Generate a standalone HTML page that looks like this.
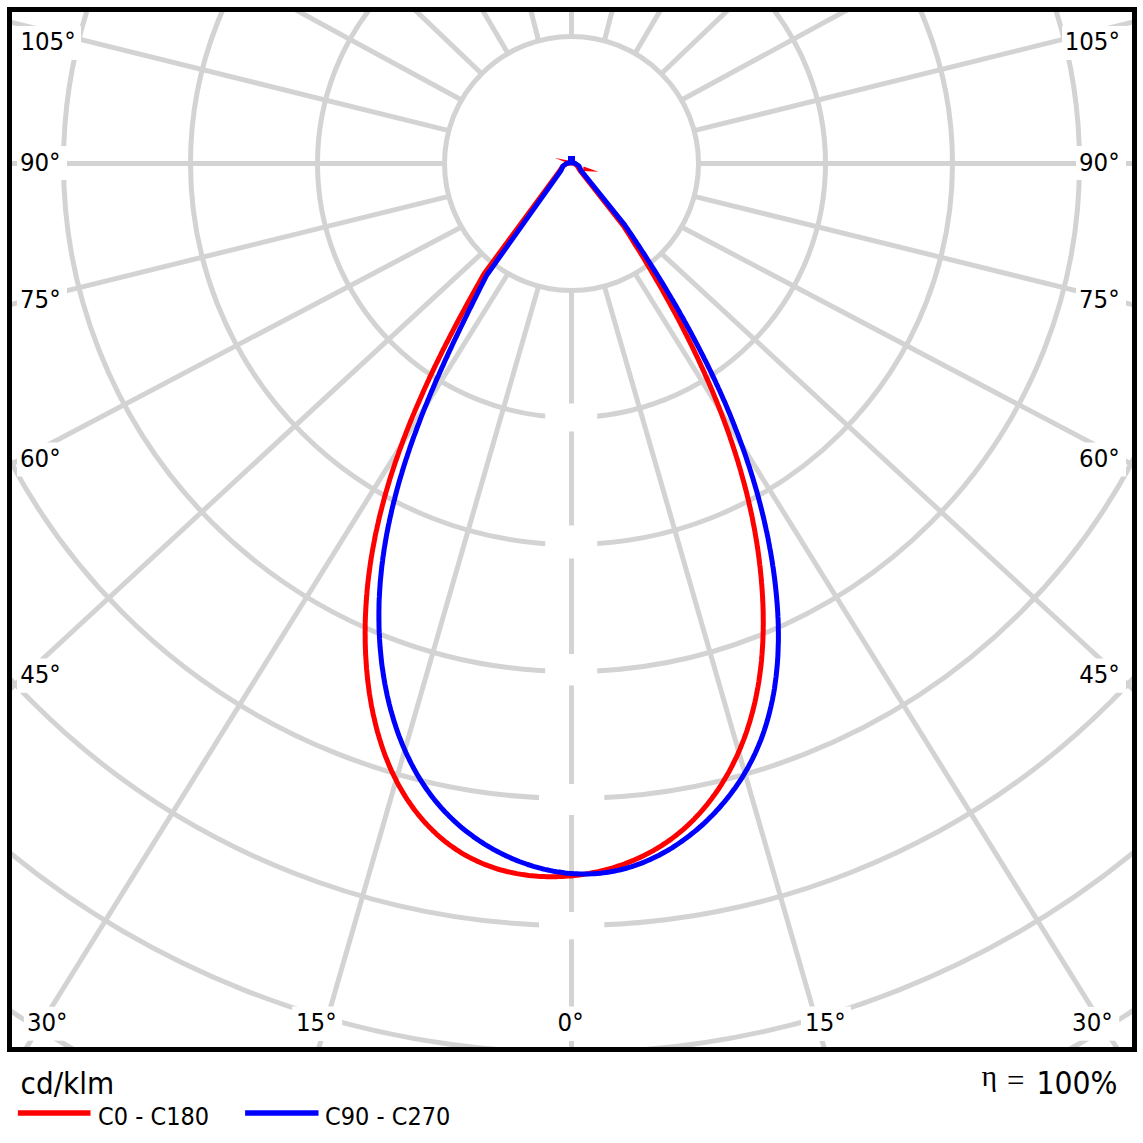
<!DOCTYPE html><html><head><meta charset="utf-8"><title>Polar LDC</title><style>html,body{margin:0;padding:0;background:#fff;width:1143px;height:1143px;overflow:hidden}svg{display:block}</style></head><body>
<svg width="1143" height="1143" viewBox="0 0 1143 1143">
<defs><clipPath id="fr"><rect x="12" y="12" width="1120" height="1035"/></clipPath></defs>
<rect width="1143" height="1143" fill="#fff"/>
<g clip-path="url(#fr)">
<g fill="none" stroke="#d3d3d3" stroke-width="5"><circle cx="571.5" cy="163.5" r="127.0"/><circle cx="571.5" cy="163.5" r="254.0"/><circle cx="571.5" cy="163.5" r="381.0"/><circle cx="571.5" cy="163.5" r="508.0"/><circle cx="571.5" cy="163.5" r="635.0"/><circle cx="571.5" cy="163.5" r="762.0"/><circle cx="571.5" cy="163.5" r="889.0"/><circle cx="571.5" cy="163.5" r="1016.0"/><line x1="538.63" y1="286.17" x2="187.38" y2="1503.50"/><line x1="604.37" y1="286.17" x2="955.62" y2="1503.50"/><line x1="508.00" y1="273.49" x2="-261.92" y2="1511.11"/><line x1="635.00" y1="273.49" x2="1404.92" y2="1511.11"/><line x1="481.70" y1="253.30" x2="-115.10" y2="804.82"/><line x1="661.30" y1="253.30" x2="1258.10" y2="804.82"/><line x1="461.51" y1="227.00" x2="-183.79" y2="567.00"/><line x1="681.49" y1="227.00" x2="1326.79" y2="567.00"/><line x1="448.83" y1="196.37" x2="-246.10" y2="367.94"/><line x1="694.17" y1="196.37" x2="1389.10" y2="367.94"/><line x1="448.83" y1="130.63" x2="-137.62" y2="-14.54"/><line x1="694.17" y1="130.63" x2="1280.62" y2="-14.54"/><line x1="461.51" y1="100.00" x2="202.45" y2="-40.80"/><line x1="681.49" y1="100.00" x2="940.55" y2="-40.80"/><line x1="481.70" y1="73.70" x2="378.34" y2="-25.02"/><line x1="661.30" y1="73.70" x2="764.66" y2="-25.02"/><line x1="508.00" y1="53.51" x2="468.96" y2="-12.91"/><line x1="635.00" y1="53.51" x2="674.04" y2="-12.91"/><line x1="538.63" y1="40.83" x2="526.74" y2="-5.30"/><line x1="604.37" y1="40.83" x2="616.26" y2="-5.30"/><line x1="571.50" y1="290.50" x2="571.50" y2="1200.00"/><line x1="571.50" y1="36.50" x2="571.50" y2="-100.00"/><line x1="444.50" y1="163.50" x2="-100.00" y2="163.50"/><line x1="698.50" y1="163.50" x2="1300.00" y2="163.50"/></g>
<g fill="#fff"><rect x="545.2" y="403.5" width="52.0" height="28.0"/><rect x="545.2" y="525.5" width="52.0" height="33.0"/><rect x="545.2" y="654" width="52.0" height="31.5"/><rect x="539" y="784" width="65.3" height="31.0"/><rect x="539" y="912" width="65.3" height="27.3"/></g>
<polyline points="571.0,162.8 567.0,163.5 563.0,166.0 560.0,170.5 484.3,273.5 482.8,276.1 481.3,278.7 479.9,281.3 478.4,283.9 476.9,286.5 475.5,289.1 474.0,291.7 472.5,294.3 471.1,297.0 469.6,299.6 468.2,302.2 466.8,304.8 465.3,307.5 463.9,310.1 462.5,312.7 461.0,315.4 459.6,318.0 458.2,320.7 456.8,323.3 455.4,326.0 454.0,328.6 452.6,331.3 451.2,334.0 449.8,336.6 448.5,339.3 447.1,342.0 445.7,344.7 444.4,347.3 443.0,350.0 441.7,352.7 440.4,355.4 439.0,358.1 437.7,360.8 436.4,363.5 435.1,366.2 433.8,368.9 432.5,371.6 431.2,374.3 429.9,377.0 428.7,379.8 427.4,382.5 426.2,385.2 424.9,388.0 423.7,390.7 422.5,393.4 421.3,396.2 420.1,398.9 418.9,401.7 417.7,404.4 416.5,407.2 415.3,409.9 414.2,412.7 413.0,415.4 411.9,418.2 410.7,421.0 409.6,423.8 408.5,426.5 407.4,429.3 406.3,432.1 405.3,434.9 404.2,437.7 403.1,440.5 402.1,443.3 401.1,446.1 400.1,448.9 399.0,451.7 398.1,454.5 397.1,457.3 396.1,460.1 395.1,463.0 394.2,465.8 393.3,468.6 392.3,471.5 391.4,474.3 390.5,477.1 389.6,480.0 388.8,482.8 387.9,485.7 387.1,488.5 386.2,491.4 385.4,494.2 384.6,497.1 383.8,500.0 383.1,502.8 382.3,505.7 381.6,508.6 380.8,511.5 380.1,514.3 379.4,517.2 378.7,520.1 378.1,523.0 377.4,525.9 376.8,528.8 376.1,531.7 375.5,534.6 374.9,537.5 374.4,540.5 373.8,543.4 373.3,546.3 372.7,549.2 372.2,552.2 371.7,555.1 371.2,558.0 370.8,561.0 370.3,563.9 369.9,566.8 369.5,569.8 369.1,572.8 368.7,575.7 368.4,578.7 368.0,581.6 367.7,584.6 367.4,587.6 367.1,590.5 366.9,593.5 366.6,596.5 366.4,599.5 366.2,602.5 366.0,605.5 365.8,608.5 365.7,611.5 365.5,614.5 365.4,617.5 365.3,620.5 365.2,623.5 365.2,626.5 365.2,629.5 365.1,632.6 365.2,635.6 365.2,638.6 365.2,641.6 365.3,644.7 365.4,647.7 365.5,650.8 365.6,653.8 365.8,656.9 366.0,659.9 366.2,662.9 366.4,666.0 366.6,669.0 366.9,672.1 367.2,675.1 367.5,678.2 367.8,681.2 368.2,684.2 368.6,687.3 369.0,690.3 369.4,693.3 369.9,696.3 370.4,699.4 370.9,702.4 371.4,705.4 372.0,708.3 372.6,711.3 373.2,714.3 373.9,717.3 374.6,720.2 375.3,723.2 376.0,726.1 376.7,729.0 377.5,731.9 378.4,734.8 379.2,737.7 380.1,740.6 381.0,743.5 381.9,746.3 382.9,749.2 383.9,752.0 384.9,754.8 386.0,757.6 387.1,760.3 388.2,763.1 389.3,765.8 390.5,768.6 391.7,771.3 393.0,773.9 394.3,776.6 395.6,779.2 396.9,781.9 398.3,784.5 399.7,787.0 401.2,789.6 402.7,792.1 404.2,794.6 405.7,797.1 407.3,799.6 409.0,802.0 410.6,804.4 412.3,806.8 414.0,809.2 415.8,811.5 417.6,813.8 419.5,816.1 421.4,818.3 423.3,820.6 425.2,822.7 427.2,824.9 429.2,827.0 431.3,829.1 433.4,831.2 435.6,833.2 437.7,835.2 439.9,837.1 442.2,839.0 444.4,840.9 446.8,842.7 449.1,844.5 451.5,846.2 453.9,847.9 456.3,849.6 458.8,851.2 461.3,852.8 463.9,854.3 466.4,855.7 469.0,857.1 471.6,858.5 474.3,859.8 477.0,861.1 479.7,862.3 482.4,863.5 485.2,864.6 488.0,865.7 490.8,866.7 493.6,867.7 496.4,868.6 499.3,869.5 502.2,870.3 505.1,871.0 508.0,871.8 510.9,872.4 513.8,873.0 516.8,873.6 519.8,874.1 522.8,874.6 525.7,875.0 528.7,875.4 531.8,875.7 534.8,876.0 537.8,876.3 540.8,876.5 543.9,876.6 546.9,876.7 549.9,876.7 553.0,876.8 556.0,876.7 559.1,876.6 562.1,876.5 565.1,876.3 568.2,876.1 571.2,875.9 574.2,875.5 577.3,875.2 580.3,874.8 583.3,874.4 586.3,873.9 589.3,873.4 592.3,872.8 595.2,872.2 598.2,871.6 601.1,870.9 604.1,870.2 607.0,869.4 609.9,868.6 612.8,867.8 615.7,866.9 618.5,866.0 621.4,865.0 624.2,864.0 627.0,862.9 629.8,861.8 632.6,860.7 635.3,859.5 638.1,858.3 640.8,857.1 643.5,855.8 646.1,854.4 648.8,853.0 651.4,851.6 654.0,850.2 656.6,848.7 659.1,847.1 661.6,845.6 664.1,843.9 666.6,842.3 669.0,840.6 671.5,838.9 673.8,837.1 676.2,835.3 678.5,833.4 680.8,831.5 683.1,829.6 685.3,827.6 687.5,825.6 689.6,823.6 691.8,821.5 693.9,819.4 695.9,817.3 698.0,815.1 700.0,812.9 702.0,810.6 703.9,808.4 705.8,806.1 707.7,803.8 709.5,801.4 711.4,799.0 713.1,796.6 714.9,794.2 716.6,791.8 718.3,789.3 719.9,786.8 721.6,784.3 723.1,781.7 724.7,779.2 726.2,776.6 727.7,774.0 729.2,771.4 730.6,768.7 732.0,766.1 733.3,763.4 734.6,760.7 735.9,758.1 737.2,755.4 738.4,752.6 739.6,749.9 740.7,747.2 741.8,744.4 742.9,741.6 744.0,738.9 745.0,736.1 746.0,733.3 747.0,730.5 747.9,727.6 748.8,724.8 749.7,722.0 750.5,719.1 751.3,716.3 752.1,713.4 752.9,710.5 753.6,707.6 754.3,704.7 755.0,701.8 755.6,698.9 756.2,696.0 756.8,693.1 757.3,690.1 757.9,687.2 758.4,684.2 758.9,681.3 759.3,678.3 759.7,675.4 760.1,672.4 760.5,669.4 760.9,666.4 761.2,663.5 761.5,660.5 761.7,657.5 762.0,654.5 762.2,651.5 762.4,648.5 762.6,645.5 762.8,642.5 762.9,639.5 763.0,636.5 763.1,633.4 763.2,630.4 763.2,627.4 763.3,624.4 763.3,621.4 763.2,618.4 763.2,615.3 763.2,612.3 763.1,609.3 763.0,606.3 762.9,603.3 762.7,600.3 762.6,597.2 762.4,594.2 762.2,591.2 762.0,588.2 761.8,585.2 761.5,582.2 761.3,579.2 761.0,576.2 760.7,573.2 760.4,570.2 760.1,567.3 759.7,564.3 759.4,561.3 759.0,558.3 758.6,555.3 758.2,552.4 757.8,549.4 757.3,546.5 756.9,543.5 756.4,540.5 755.9,537.6 755.4,534.6 754.9,531.7 754.4,528.8 753.8,525.8 753.2,522.9 752.7,520.0 752.1,517.0 751.5,514.1 750.8,511.2 750.2,508.3 749.5,505.4 748.9,502.4 748.2,499.5 747.5,496.6 746.8,493.7 746.1,490.8 745.3,488.0 744.6,485.1 743.8,482.2 743.0,479.3 742.2,476.4 741.4,473.6 740.6,470.7 739.8,467.8 738.9,465.0 738.1,462.1 737.2,459.2 736.3,456.4 735.4,453.5 734.5,450.7 733.6,447.9 732.6,445.0 731.7,442.2 730.7,439.4 729.8,436.5 728.8,433.7 727.8,430.9 726.8,428.1 725.8,425.3 724.7,422.5 723.7,419.7 722.6,416.9 721.6,414.1 720.5,411.3 719.4,408.5 718.3,405.7 717.2,402.9 716.1,400.2 714.9,397.4 713.8,394.6 712.7,391.9 711.5,389.1 710.3,386.3 709.1,383.6 707.9,380.8 706.7,378.1 705.5,375.4 704.3,372.6 703.1,369.9 701.8,367.2 700.6,364.4 699.3,361.7 698.1,359.0 696.8,356.3 695.5,353.6 694.2,350.9 692.9,348.2 691.6,345.5 690.3,342.8 688.9,340.1 687.6,337.4 686.2,334.7 684.9,332.1 683.5,329.4 682.2,326.7 680.8,324.1 679.4,321.4 678.0,318.7 676.6,316.1 675.2,313.4 673.8,310.8 672.3,308.2 670.9,305.5 669.5,302.9 668.0,300.3 666.6,297.7 665.1,295.0 663.6,292.4 662.2,289.8 660.7,287.2 659.2,284.6 657.7,282.0 656.2,279.4 654.7,276.8 653.2,274.2 651.7,271.7 650.2,269.1 648.6,266.5 647.1,264.0 645.6,261.4 644.0,258.8 642.5,256.3 640.9,253.7 639.4,251.2 637.8,248.7 636.2,246.1 634.6,243.6 633.1,241.1 631.5,238.5 629.9,236.0 628.3,233.5 626.7,231.0 625.1,228.5 623.5,226.0 580.0,170.5 577.0,165.5 574.0,163.3 571.0,162.8" fill="none" stroke="#f00" stroke-width="5" stroke-linejoin="round" stroke-linecap="round"/>
<polygon points="554.5,157.8 568,160.5 567.5,163 " fill="#f00"/>
<polygon points="583.5,166.5 598.5,171.8 583,171" fill="#f00"/>
<polyline points="581.0,170.5 579.0,166.0 575.0,163.3 571.0,162.6 567.0,163.3 563.0,166.0 561.0,170.5 486.5,275.5 485.2,278.1 483.8,280.8 482.5,283.4 481.2,286.0 479.8,288.7 478.5,291.3 477.2,294.0 475.9,296.6 474.5,299.3 473.2,301.9 471.9,304.6 470.6,307.3 469.2,309.9 467.9,312.6 466.6,315.3 465.3,318.0 464.0,320.7 462.7,323.3 461.4,326.0 460.1,328.7 458.8,331.4 457.5,334.1 456.2,336.8 454.9,339.5 453.6,342.3 452.3,345.0 451.1,347.7 449.8,350.4 448.5,353.1 447.3,355.9 446.0,358.6 444.8,361.3 443.6,364.1 442.3,366.8 441.1,369.6 439.9,372.3 438.7,375.1 437.4,377.8 436.2,380.6 435.0,383.3 433.9,386.1 432.7,388.9 431.5,391.6 430.3,394.4 429.2,397.2 428.0,400.0 426.9,402.8 425.8,405.5 424.6,408.3 423.5,411.1 422.4,413.9 421.3,416.7 420.2,419.5 419.2,422.3 418.1,425.1 417.0,428.0 416.0,430.8 415.0,433.6 413.9,436.4 412.9,439.2 411.9,442.1 410.9,444.9 409.9,447.7 409.0,450.6 408.0,453.4 407.1,456.3 406.1,459.1 405.2,461.9 404.3,464.8 403.4,467.7 402.5,470.5 401.7,473.4 400.8,476.2 400.0,479.1 399.1,482.0 398.3,484.9 397.5,487.7 396.7,490.6 396.0,493.5 395.2,496.4 394.5,499.3 393.7,502.2 393.0,505.1 392.3,508.0 391.6,510.9 391.0,513.8 390.3,516.7 389.7,519.6 389.1,522.5 388.4,525.4 387.9,528.3 387.3,531.2 386.7,534.2 386.2,537.1 385.7,540.0 385.2,543.0 384.7,545.9 384.2,548.8 383.8,551.8 383.4,554.7 382.9,557.7 382.6,560.6 382.2,563.6 381.8,566.5 381.5,569.5 381.2,572.4 380.9,575.4 380.6,578.4 380.3,581.3 380.1,584.3 379.9,587.3 379.7,590.3 379.5,593.2 379.4,596.2 379.2,599.2 379.1,602.2 379.0,605.2 379.0,608.2 378.9,611.2 378.9,614.2 378.9,617.2 378.9,620.2 379.0,623.2 379.0,626.2 379.1,629.2 379.2,632.2 379.4,635.2 379.5,638.2 379.7,641.3 379.9,644.3 380.1,647.3 380.4,650.3 380.7,653.4 381.0,656.4 381.3,659.4 381.6,662.4 382.0,665.5 382.4,668.5 382.9,671.5 383.3,674.5 383.8,677.5 384.3,680.5 384.8,683.5 385.4,686.5 386.0,689.5 386.6,692.5 387.2,695.5 387.9,698.4 388.6,701.4 389.3,704.3 390.1,707.3 390.8,710.2 391.7,713.1 392.5,716.1 393.4,719.0 394.2,721.9 395.2,724.7 396.1,727.6 397.1,730.5 398.1,733.3 399.1,736.1 400.2,738.9 401.3,741.7 402.4,744.5 403.6,747.3 404.8,750.0 406.0,752.8 407.3,755.5 408.6,758.2 409.9,760.9 411.2,763.5 412.6,766.2 414.0,768.8 415.5,771.4 416.9,774.0 418.4,776.5 420.0,779.1 421.6,781.6 423.2,784.1 424.8,786.5 426.5,789.0 428.2,791.4 429.9,793.8 431.7,796.2 433.5,798.5 435.4,800.8 437.3,803.1 439.2,805.4 441.1,807.6 443.1,809.8 445.1,812.0 447.2,814.1 449.3,816.2 451.4,818.3 453.6,820.4 455.8,822.4 458.0,824.4 460.2,826.3 462.5,828.3 464.9,830.2 467.2,832.0 469.6,833.8 472.0,835.6 474.4,837.4 476.9,839.1 479.4,840.8 481.9,842.4 484.4,844.1 487.0,845.6 489.6,847.2 492.2,848.7 494.8,850.1 497.4,851.5 500.1,852.9 502.8,854.3 505.5,855.6 508.2,856.8 511.0,858.1 513.7,859.2 516.5,860.4 519.3,861.5 522.1,862.5 524.9,863.5 527.7,864.5 530.5,865.4 533.4,866.3 536.3,867.1 539.1,867.9 542.0,868.7 544.9,869.4 547.8,870.0 550.7,870.6 553.6,871.2 556.5,871.7 559.4,872.1 562.4,872.5 565.3,872.9 568.2,873.2 571.1,873.4 574.1,873.7 577.0,873.8 579.9,873.9 582.9,874.0 585.8,874.0 588.7,873.9 591.6,873.8 594.6,873.7 597.5,873.4 600.4,873.2 603.3,872.8 606.2,872.5 609.1,872.0 611.9,871.5 614.8,871.0 617.7,870.4 620.5,869.7 623.4,869.0 626.2,868.3 629.0,867.4 631.8,866.6 634.6,865.7 637.4,864.7 640.2,863.7 642.9,862.6 645.6,861.5 648.4,860.3 651.1,859.1 653.8,857.8 656.4,856.5 659.1,855.2 661.7,853.8 664.4,852.3 667.0,850.9 669.5,849.3 672.1,847.8 674.6,846.2 677.2,844.5 679.7,842.8 682.1,841.1 684.6,839.3 687.0,837.5 689.4,835.7 691.8,833.8 694.2,831.9 696.5,830.0 698.8,828.0 701.1,826.0 703.4,824.0 705.6,821.9 707.8,819.8 710.0,817.6 712.1,815.5 714.3,813.3 716.3,811.0 718.4,808.8 720.4,806.5 722.4,804.2 724.4,801.9 726.3,799.5 728.2,797.1 730.1,794.7 731.9,792.3 733.7,789.8 735.5,787.4 737.2,784.9 738.9,782.4 740.6,779.8 742.2,777.3 743.8,774.7 745.3,772.1 746.8,769.5 748.3,766.9 749.7,764.2 751.1,761.6 752.5,758.9 753.8,756.2 755.1,753.5 756.3,750.8 757.5,748.1 758.6,745.4 759.8,742.6 760.9,739.9 761.9,737.1 762.9,734.3 763.9,731.5 764.8,728.7 765.7,725.9 766.6,723.0 767.4,720.2 768.2,717.3 769.0,714.5 769.7,711.6 770.4,708.7 771.1,705.8 771.7,702.9 772.4,700.0 772.9,697.1 773.5,694.2 774.0,691.3 774.5,688.3 774.9,685.4 775.3,682.4 775.7,679.5 776.1,676.5 776.4,673.5 776.7,670.6 777.0,667.6 777.3,664.6 777.5,661.6 777.7,658.6 777.9,655.6 778.0,652.6 778.1,649.6 778.2,646.6 778.3,643.6 778.4,640.6 778.4,637.6 778.4,634.5 778.4,631.5 778.3,628.5 778.3,625.5 778.2,622.5 778.1,619.4 777.9,616.4 777.8,613.4 777.6,610.4 777.4,607.3 777.2,604.3 776.9,601.3 776.7,598.3 776.4,595.3 776.1,592.3 775.8,589.2 775.5,586.2 775.1,583.2 774.8,580.2 774.4,577.2 774.0,574.2 773.6,571.2 773.2,568.2 772.7,565.3 772.3,562.3 771.8,559.3 771.3,556.3 770.8,553.4 770.3,550.4 769.7,547.4 769.2,544.5 768.6,541.5 768.1,538.6 767.5,535.7 766.9,532.7 766.2,529.8 765.6,526.9 764.9,523.9 764.3,521.0 763.6,518.1 762.9,515.2 762.2,512.3 761.5,509.4 760.7,506.5 760.0,503.6 759.2,500.7 758.5,497.8 757.7,494.9 756.9,492.0 756.1,489.2 755.2,486.3 754.4,483.4 753.5,480.6 752.7,477.7 751.8,474.9 750.9,472.0 750.0,469.2 749.1,466.3 748.1,463.5 747.2,460.7 746.2,457.8 745.3,455.0 744.3,452.2 743.3,449.4 742.3,446.6 741.3,443.8 740.2,441.0 739.2,438.2 738.2,435.4 737.1,432.6 736.0,429.8 734.9,427.0 733.8,424.2 732.7,421.4 731.6,418.7 730.5,415.9 729.4,413.2 728.2,410.4 727.0,407.6 725.9,404.9 724.7,402.1 723.5,399.4 722.3,396.7 721.1,393.9 719.9,391.2 718.6,388.5 717.4,385.8 716.1,383.1 714.9,380.3 713.6,377.6 712.3,374.9 711.0,372.2 709.7,369.5 708.4,366.8 707.1,364.2 705.8,361.5 704.4,358.8 703.1,356.1 701.7,353.5 700.4,350.8 699.0,348.1 697.6,345.5 696.2,342.8 694.8,340.2 693.4,337.5 692.0,334.9 690.6,332.2 689.2,329.6 687.7,327.0 686.3,324.3 684.8,321.7 683.4,319.1 681.9,316.5 680.4,313.9 679.0,311.3 677.5,308.7 676.0,306.1 674.5,303.5 673.0,300.9 671.4,298.3 669.9,295.7 668.4,293.2 666.8,290.6 665.3,288.0 663.7,285.4 662.2,282.9 660.6,280.3 659.1,277.8 657.5,275.2 655.9,272.7 654.3,270.1 652.7,267.6 651.1,265.1 649.5,262.5 647.9,260.0 646.3,257.5 644.7,255.0 643.0,252.5 641.4,250.0 639.8,247.5 638.1,245.0 636.5,242.5 634.8,240.0 633.2,237.5 631.5,235.0 629.8,232.5 628.2,230.0 626.5,227.6 624.8,225.1 581.0,170.5" fill="none" stroke="#00f" stroke-width="5" stroke-linejoin="round" stroke-linecap="round"/>
<rect x="568" y="156" width="7" height="6" fill="#00f"/>
</g>
<rect x="17" y="26" width="64.0" height="34.0" fill="#fff"/>
<rect x="17" y="146" width="50.0" height="34.0" fill="#fff"/>
<rect x="17" y="283" width="50.0" height="34.0" fill="#fff"/>
<rect x="17" y="442.5" width="50.0" height="34.0" fill="#fff"/>
<rect x="17" y="658.5" width="50.0" height="34.3" fill="#fff"/>
<rect x="23.8" y="1006.8" width="50.2" height="33.9" fill="#fff"/>
<rect x="292.2" y="1006.5" width="50.0" height="34.5" fill="#fff"/>
<rect x="546" y="1006.5" width="50.0" height="34.5" fill="#fff"/>
<rect x="800.9" y="1006.5" width="50.0" height="34.5" fill="#fff"/>
<rect x="1069" y="1006.8" width="50.2" height="33.9" fill="#fff"/>
<rect x="1076" y="658.5" width="50.0" height="34.3" fill="#fff"/>
<rect x="1076" y="442.5" width="50.0" height="34.0" fill="#fff"/>
<rect x="1076" y="283" width="50.0" height="34.0" fill="#fff"/>
<rect x="1076" y="146" width="50.0" height="34.0" fill="#fff"/>
<rect x="1062" y="26" width="64.0" height="34.0" fill="#fff"/>
<g font-family="'DejaVu Sans Condensed','DejaVu Sans',sans-serif" font-stretch="condensed" font-size="25.5" fill="#000">
<text x="20.4" y="50">105°</text>
<text x="19.9" y="171.1">90°</text>
<text x="20" y="307.8">75°</text>
<text x="20" y="466.7">60°</text>
<text x="20.2" y="682.8">45°</text>
<text x="26.9" y="1030.8">30°</text>
<text x="296" y="1030.9">15°</text>
<text x="557.6" y="1031">0°</text>
<text x="805.1" y="1031">15°</text>
<text x="1072.1" y="1030.8">30°</text>
<text x="1079.2" y="682.8">45°</text>
<text x="1079.1" y="466.8">60°</text>
<text x="1079" y="307.8">75°</text>
<text x="1079" y="171.1">90°</text>
<text x="1064.7" y="50">105°</text>
</g>
<rect x="9.5" y="9.5" width="1125" height="1040" fill="none" stroke="#000" stroke-width="5"/>
<text x="20.6" y="1094.3" font-family="'DejaVu Sans Condensed','DejaVu Sans',sans-serif" font-stretch="condensed" font-size="31" fill="#000">cd/klm</text>
<line x1="17.9" y1="1113" x2="90.5" y2="1113" stroke="#f00" stroke-width="5.5"/>
<line x1="245.1" y1="1113" x2="318.5" y2="1113" stroke="#00f" stroke-width="5.5"/>
<text x="98" y="1124.7" font-family="'DejaVu Sans Condensed','DejaVu Sans',sans-serif" font-stretch="condensed" font-size="25" fill="#000">C0 - C180</text>
<text x="325" y="1124.6" font-family="'DejaVu Sans Condensed','DejaVu Sans',sans-serif" font-stretch="condensed" font-size="25" fill="#000">C90 - C270</text>
<text x="981.6" y="1085.8" font-family="'Liberation Serif',serif" font-size="29" textLength="15.6" lengthAdjust="spacingAndGlyphs" fill="#000">η</text>
<text x="1007" y="1090.8" font-family="'Liberation Serif',serif" font-size="31" fill="#000">=</text>
<text x="1036.5" y="1094.2" font-family="'DejaVu Sans Condensed','DejaVu Sans',sans-serif" font-stretch="condensed" font-size="31.5" fill="#000">100%</text>
</svg></body></html>
